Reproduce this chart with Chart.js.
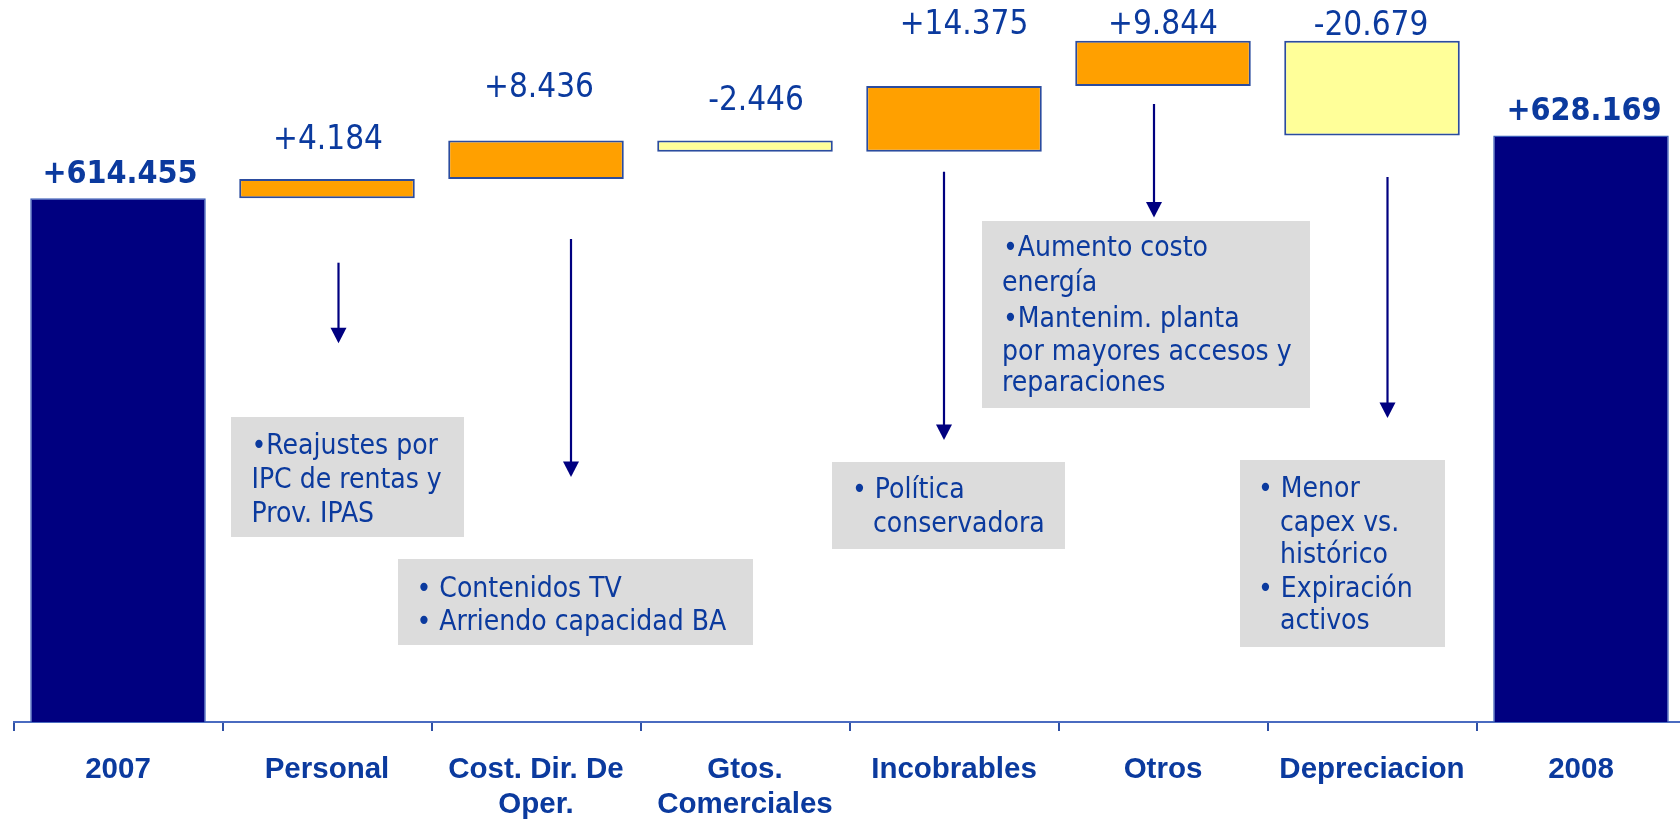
<!DOCTYPE html>
<html><head><meta charset="utf-8">
<script src="https://cdn.jsdelivr.net/npm/chart.js@4.4.1/dist/chart.umd.min.js"></script>
<style>html,body{margin:0;padding:0;overflow:hidden;background:#fff;width:1680px;height:821px}canvas{display:block}</style>
</head><body><canvas id="c" width="1686" height="821" style="width:1686px;height:821px"></canvas>
<script>
// ---------- data ----------
const categories = ['2007', 'Personal', ['Cost. Dir. De', 'Oper.'], ['Gtos.', 'Comerciales'], 'Incobrables', 'Otros', 'Depreciacion', '2008'];
const openingTotal = 614.455;
const changes = [4.184, 8.436, -2.446, 14.375, 9.844, -20.679];
const closingTotal = 628.169;
const axisMin = 500;
const axisMax = 650;

const notes = [
  { cat: 1, lines: ['•Reajustes por', 'IPC de rentas y', 'Prov. IPAS'] },
  { cat: 2, lines: ['• Contenidos TV', '• Arriendo capacidad BA'] },
  { cat: 4, lines: ['• Política', 'conservadora'] },
  { cat: 5, lines: ['•Aumento costo', 'energía', '•Mantenim. planta', 'por mayores accesos y', 'reparaciones'] },
  { cat: 6, lines: ['• Menor', 'capex vs.', 'histórico', '• Expiración', 'activos'] }
];

// ---------- derived bars ----------
const barData = [openingTotal];
const kinds = ['total'];
let running = openingTotal;
changes.forEach(c => {
  const s = running;
  running = +(running + c).toFixed(3);
  barData.push([s, running]);
  kinds.push(c >= 0 ? 'up' : 'down');
});
barData.push(closingTotal);
kinds.push('total');
const fmt = v => (v < 0 ? '-' : '+') + Math.abs(v).toFixed(3);
const valueLabels = [fmt(openingTotal), ...changes.map(fmt), fmt(closingTotal)];

// ---------- styling / layout ----------
const FILL = { total: '#000080', up: '#FFA000', down: '#FFFF99' };
const EDGE = { total: '#3A5CB8', up: '#2B4C9F', down: '#2B4C9F' };
const TXT = '#0B3A9E';
const COND = '"DejaVu Sans Condensed", "DejaVu Sans", sans-serif';
// label lift above bar top (px) and horizontal nudge
const labelLift = [24, 39, 52, 39, 60.4, 15.4, 14.3, 24.3];
const labelNudge = [2, 1, 3, 11, 10, 0, -1, 3];
// annotation layout: box in px, text lines (x offset, y centre), arrow (dx from category centre, y1, y2)
const noteLayout = [
  { box: [231, 417, 464, 537], tx: [20.5, 20.5, 20.5], ty: [446.5, 480.5, 514.5], arrow: [11.5, 262.7, 343.3] },
  { box: [398, 559, 753, 645], tx: [18.5, 18.5], ty: [589.5, 622.5], arrow: [35, 239, 477] },
  { box: [832, 462, 1065, 549], tx: [20, 41], ty: [491, 525], arrow: [-10, 171.7, 440] },
  { box: [982, 221, 1310, 408], tx: [21, 20, 21, 20, 20], ty: [249, 283.5, 319.5, 353, 384], arrow: [-9, 104, 217.5] },
  { box: [1240, 460, 1445, 647], tx: [18, 40, 40, 18, 40], ty: [490, 523.5, 555.5, 589.5, 622], arrow: [15.5, 177, 418] }
];

const overlay = {
  id: 'overlay',
  afterDatasetsDraw(chart) {
    const ctx = chart.ctx;
    const xs = chart.scales.x;
    const meta = chart.getDatasetMeta(0);
    ctx.save();
    // value labels
    ctx.textAlign = 'center';
    ctx.textBaseline = 'middle';
    ctx.fillStyle = TXT;
    meta.data.forEach((bar, i) => {
      const top = Math.min(bar.y, bar.base);
      ctx.font = kinds[i] === 'total' ? 'bold 32px ' + COND : '33px ' + COND;
      ctx.fillText(valueLabels[i], bar.x + labelNudge[i], top - labelLift[i]);
    });
    // notes
    notes.forEach((n, k) => {
      const L = noteLayout[k];
      const [x1, y1, x2, y2] = L.box;
      ctx.fillStyle = '#DCDCDC';
      ctx.fillRect(x1, y1, x2 - x1, y2 - y1);
      ctx.fillStyle = TXT;
      ctx.font = '28px ' + COND;
      ctx.textAlign = 'left';
      ctx.textBaseline = 'middle';
      n.lines.forEach((t, j) => ctx.fillText(t, x1 + L.tx[j], L.ty[j]));
      // arrow
      const ax = xs.getPixelForValue(n.cat) + L.arrow[0];
      const ay1 = L.arrow[1], ay2 = L.arrow[2];
      ctx.strokeStyle = '#000080';
      ctx.fillStyle = '#000080';
      ctx.lineWidth = 2.2;
      ctx.beginPath();
      ctx.moveTo(ax, ay1);
      ctx.lineTo(ax, ay2 - 12);
      ctx.stroke();
      ctx.beginPath();
      ctx.moveTo(ax - 8, ay2 - 15.5);
      ctx.lineTo(ax + 8, ay2 - 15.5);
      ctx.lineTo(ax, ay2);
      ctx.closePath();
      ctx.fill();
    });
    ctx.restore();
  }
};

new Chart(document.getElementById('c'), {
  type: 'bar',
  data: {
    labels: categories,
    datasets: [{
      data: barData,
      backgroundColor: kinds.map(k => FILL[k]),
      borderColor: kinds.map(k => EDGE[k]),
      borderWidth: kinds.map(k => k === 'total' ? 1.5 : 2),
      borderSkipped: false,
      barPercentage: 0.84,
      categoryPercentage: 1,
      clip: { left: false, right: false, top: false, bottom: 0 }
    }]
  },
  options: {
    responsive: false,
    animation: false,
    layout: { padding: { left: 13.5, right: 0.5, top: 35.6, bottom: 0 } },
    plugins: { legend: { display: false }, tooltip: { enabled: false } },
    scales: {
      x: {
        grid: { display: true, drawOnChartArea: false, drawTicks: true, tickLength: 9, offset: true, color: '#2F50A5', lineWidth: 2 },
        border: { display: true, color: '#4A6BC0', width: 2 },
        ticks: { color: TXT, font: { family: '"Liberation Sans", Arial, sans-serif', weight: 'bold', size: 29.5, lineHeight: 1.2 }, padding: 21, maxRotation: 0, autoSkip: false },
        afterFit(s) { s.height = 99; }
      },
      y: { display: false, min: axisMin, max: axisMax }
    }
  },
  plugins: [overlay]
});
</script>
</body></html>
